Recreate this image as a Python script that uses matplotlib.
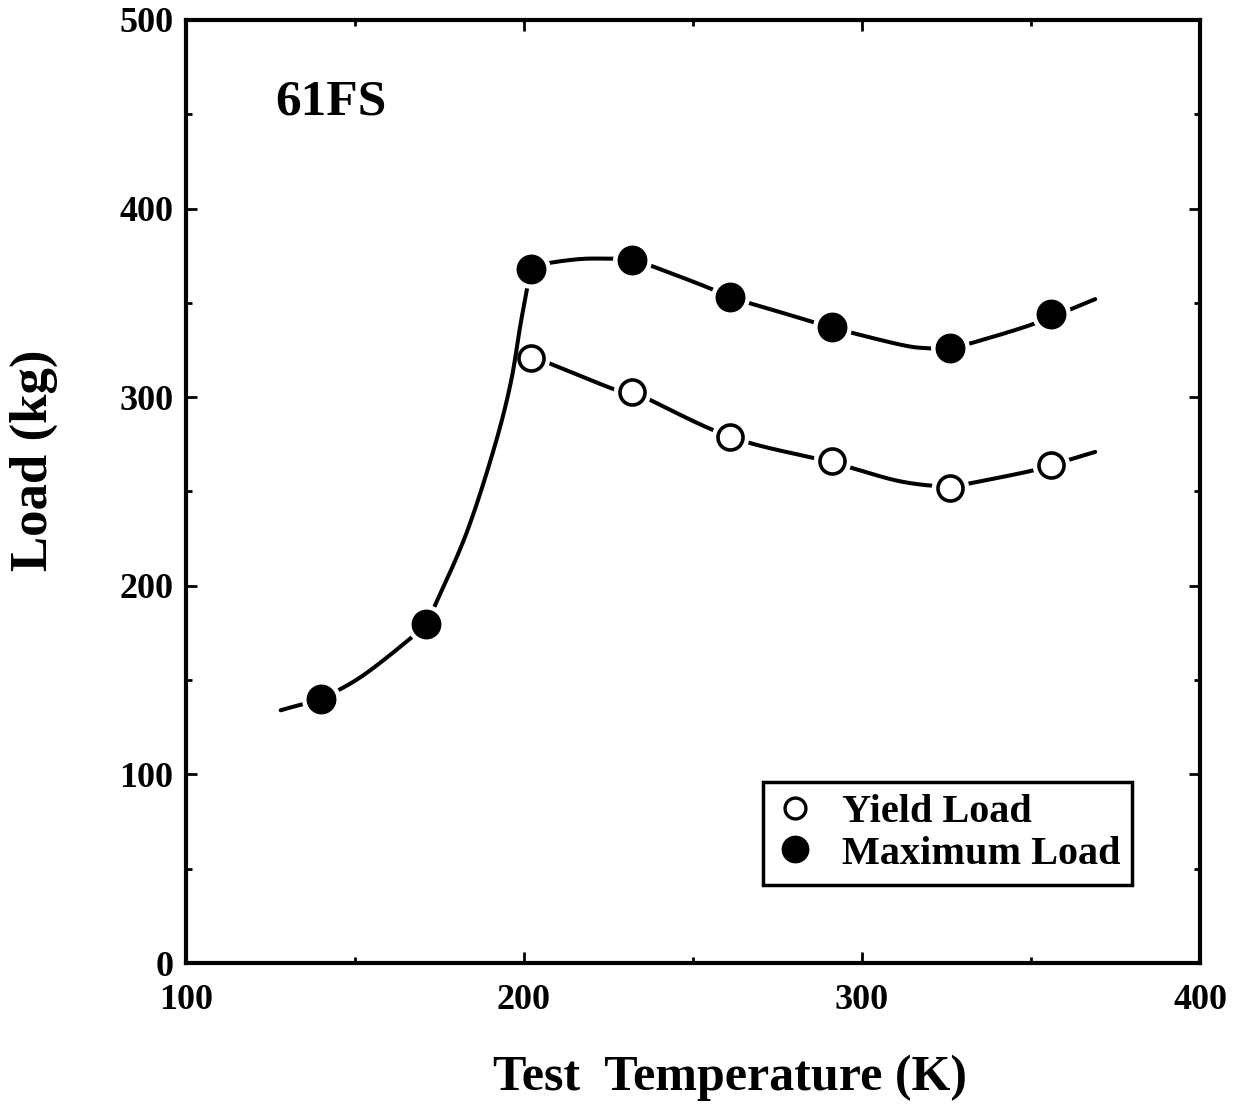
import numpy as np
import matplotlib
matplotlib.use("Agg")
import matplotlib.pyplot as plt
from matplotlib.ticker import MultipleLocator
from matplotlib.lines import Line2D

# Measured loads for sample 61FS
temp_max = [140, 171, 202, 232, 261, 291, 326, 356]
load_max = [140, 180, 368, 373, 353, 337, 326, 344]
temp_yield = [202, 232, 261, 291, 326, 356]
load_yield = [321, 303, 279, 266, 252, 264]

# Hand-drawn trend curves (knots of the guide lines)
max_low_T = [128, 140, 152, 167, 171, 174, 183, 191, 196, 199, 202]
max_low_L = [134, 140.5, 152, 173, 180, 191, 228, 272, 307, 339, 368]
max_up_T = [202, 207, 217, 226, 232, 246, 256, 261, 276, 291, 311, 319, 326, 332, 351, 369]
max_up_L = [368, 371, 373.3, 373.4, 373, 364, 357, 353, 345, 337, 328, 326, 326, 328.5, 339, 352]
yld_T = [202, 206, 227, 232, 261, 291, 311, 326, 331, 349, 356, 369]
yld_L = [321, 319, 304, 303, 279, 265.5, 255.5, 252.5, 254, 260.5, 264, 271]

FONT = "Liberation Serif"


def smooth(xs, ys, n=25):
    """Catmull-Rom spline through the given knots."""
    p = np.column_stack([xs, ys]).astype(float)
    p = np.vstack([2 * p[0] - p[1], p, 2 * p[-1] - p[-2]])
    out = []
    t = np.linspace(0, 1, n, endpoint=False)[:, None]
    for i in range(1, len(p) - 2):
        p0, p1, p2, p3 = p[i - 1], p[i], p[i + 1], p[i + 2]
        seg = 0.5 * ((2 * p1) + (-p0 + p2) * t + (2 * p0 - 5 * p1 + 4 * p2 - p3) * t ** 2
                     + (-p0 + 3 * p1 - 3 * p2 + p3) * t ** 3)
        out.append(seg)
    out.append(p[-2][None, :])
    out = np.vstack(out)
    return out[:, 0], out[:, 1]


fig = plt.figure(figsize=(12.44, 11.07), dpi=100)
ax = fig.add_axes([186 / 1244, 1 - 963 / 1107, (1200 - 186) / 1244, (963 - 20) / 1107])

lw = 2.9
# yield series: line, white halo, markers
xs, ys = smooth(yld_T, yld_L)
ax.plot(xs, ys, color="black", lw=lw, solid_capstyle="round", zorder=1)
ax.plot(temp_yield, load_yield, "o", ms=27, mfc="white", mec="none", zorder=2)
ax.plot(temp_yield, load_yield, "o", ms=18, mfc="white", mec="black", mew=2.6, zorder=3)

# maximum series: line, white halo, markers
for T, L in ((max_low_T, max_low_L), (max_up_T, max_up_L)):
    xs, ys = smooth(T, L)
    ax.plot(xs, ys, color="black", lw=lw, solid_capstyle="round", zorder=4)
ax.plot(temp_max, load_max, "o", ms=28, mfc="white", mec="none", zorder=5)
ax.plot(temp_max, load_max, "o", ms=20.5, mfc="black", mec="black", mew=1, zorder=6)

ax.set_xlim(100, 400)
ax.set_ylim(0, 500)
ax.xaxis.set_major_locator(MultipleLocator(100))
ax.xaxis.set_minor_locator(MultipleLocator(50))
ax.yaxis.set_major_locator(MultipleLocator(100))
ax.yaxis.set_minor_locator(MultipleLocator(50))
ax.tick_params(which="both", direction="in", top=True, right=True, width=2, colors="black")
ax.tick_params(which="major", length=8)
ax.tick_params(which="minor", length=4)
ax.tick_params(axis="y", which="major", pad=9)
ax.tick_params(axis="x", which="major", pad=15)
for lab in ax.get_xticklabels() + ax.get_yticklabels():
    lab.set_fontfamily(FONT)
    lab.set_fontweight("bold")
    lab.set_fontsize(26)
for s in ax.spines.values():
    s.set_linewidth(3)

ax.text(126.5, 456, "61FS", fontfamily=FONT, fontweight="bold", fontsize=37,
        ha="left", va="center")

fig.text(730 / 1244, 1 - 1078 / 1107, "Test  Temperature (K)", fontfamily=FONT,
         fontweight="bold", fontsize=36, ha="center", va="center")
fig.text(34 / 1244, 1 - 460 / 1107, "Load (kg)", fontfamily=FONT, fontweight="bold",
         fontsize=38, ha="center", va="center", rotation=90)

handles = [
    Line2D([], [], ls="none", marker="o", ms=15, mfc="white", mec="black", mew=2.4),
    Line2D([], [], ls="none", marker="o", ms=19, mfc="black", mec="black"),
]
leg = fig.legend(handles, ["Yield Load", "Maximum Load"], loc="upper left",
                 bbox_to_anchor=(763 / 1244, 1 - 782 / 1107), borderaxespad=0,
                 frameon=True, fancybox=False, edgecolor="black", framealpha=1,
                 prop={"family": FONT, "weight": "bold", "size": 29},
                 handlelength=1.0, handletextpad=0.65, borderpad=0.3,
                 labelspacing=0.1)
leg.get_frame().set_linewidth(2.5)

fig.savefig("out.png", dpi=100)
